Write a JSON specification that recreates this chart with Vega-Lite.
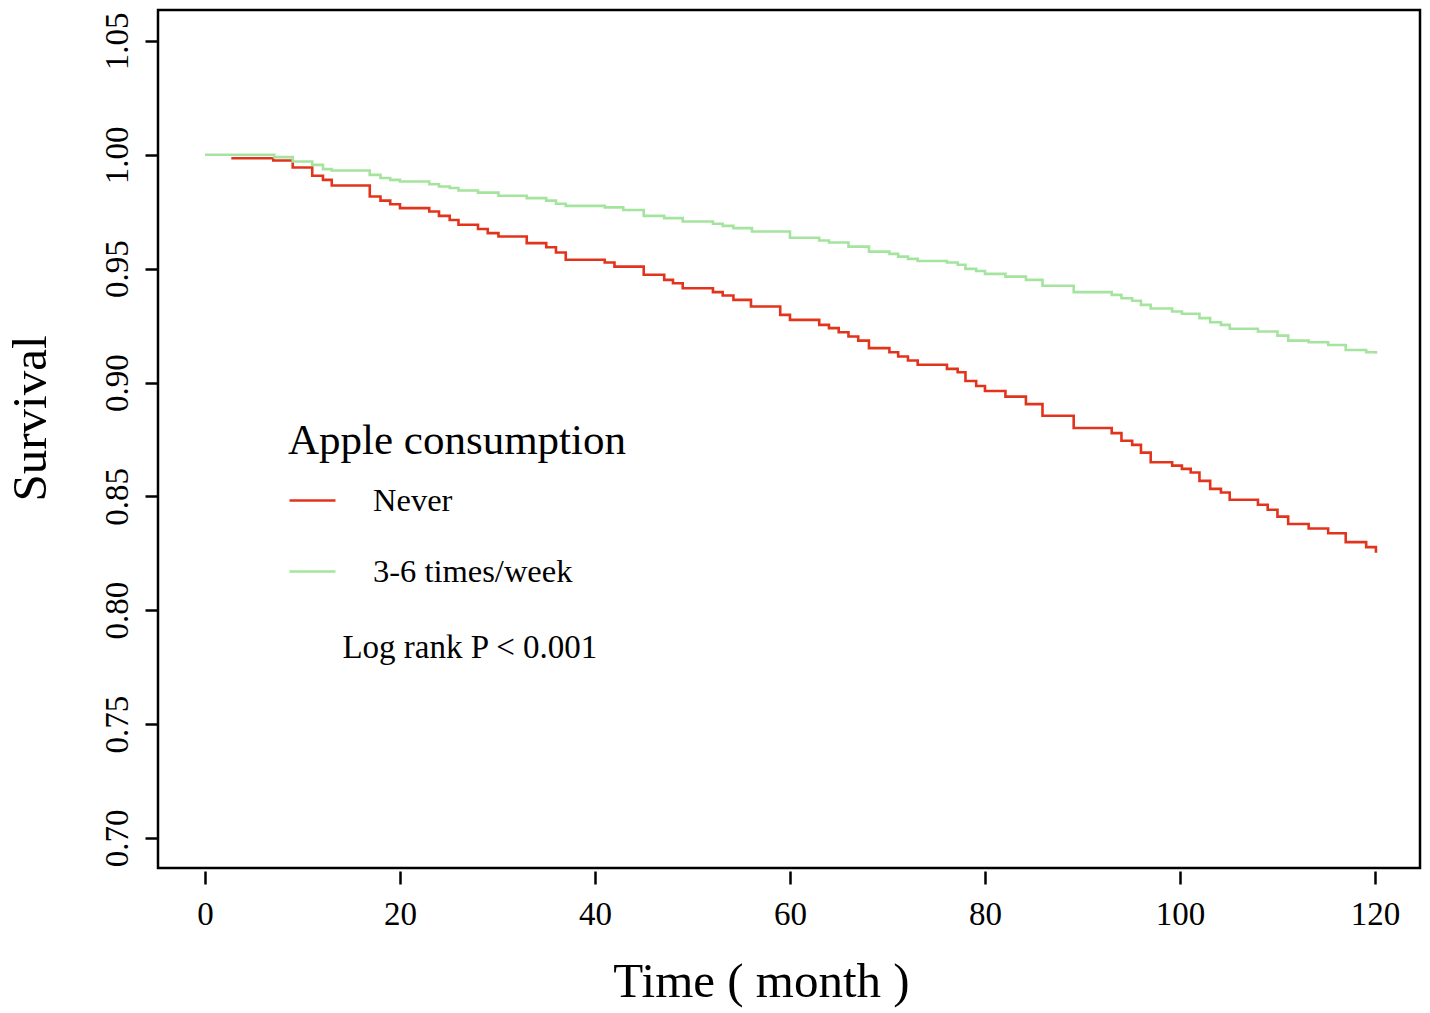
{
  "$schema": "https://vega.github.io/schema/vega-lite/v6.json",
  "autosize": "none",
  "padding": {"left": 158, "top": 10, "right": 10, "bottom": 145},
  "width": 1262,
  "height": 858,
  "background": "white",
  "config": {
    "font": "Liberation Serif",
    "view": {"stroke": "black", "strokeWidth": 2.5},
    "axis": {
      "domain": false,
      "grid": false,
      "tickColor": "black",
      "tickWidth": 2.5,
      "tickSize": 13,
      "labelColor": "black",
      "labelFont": "Liberation Serif",
      "labelFontSize": 33,
      "titleFont": "Liberation Serif",
      "titleFontSize": 49,
      "titleFontWeight": "normal",
      "titleColor": "black"
    }
  },
  "datasets": {
    "curves": [
      {"group": "Never", "time": 2.7, "surv": 0.9985},
      {"group": "Never", "time": 7, "surv": 0.9975},
      {"group": "Never", "time": 9, "surv": 0.9944},
      {"group": "Never", "time": 11, "surv": 0.9908},
      {"group": "Never", "time": 12.1, "surv": 0.989},
      {"group": "Never", "time": 13, "surv": 0.9865},
      {"group": "Never", "time": 16.9, "surv": 0.9817},
      {"group": "Never", "time": 18, "surv": 0.9799},
      {"group": "Never", "time": 19, "surv": 0.9783},
      {"group": "Never", "time": 20, "surv": 0.9766},
      {"group": "Never", "time": 23, "surv": 0.9751},
      {"group": "Never", "time": 24, "surv": 0.9732},
      {"group": "Never", "time": 25.1, "surv": 0.9714},
      {"group": "Never", "time": 26, "surv": 0.9693},
      {"group": "Never", "time": 28, "surv": 0.9674},
      {"group": "Never", "time": 29, "surv": 0.9656},
      {"group": "Never", "time": 30.1, "surv": 0.9641},
      {"group": "Never", "time": 33, "surv": 0.9612},
      {"group": "Never", "time": 35, "surv": 0.9594},
      {"group": "Never", "time": 36, "surv": 0.9571},
      {"group": "Never", "time": 37, "surv": 0.9539},
      {"group": "Never", "time": 41, "surv": 0.9527},
      {"group": "Never", "time": 42, "surv": 0.9509},
      {"group": "Never", "time": 45, "surv": 0.9473},
      {"group": "Never", "time": 47.1, "surv": 0.9451},
      {"group": "Never", "time": 48, "surv": 0.9436},
      {"group": "Never", "time": 49, "surv": 0.9414},
      {"group": "Never", "time": 52.1, "surv": 0.9397},
      {"group": "Never", "time": 53.1, "surv": 0.9382},
      {"group": "Never", "time": 54.2, "surv": 0.9363},
      {"group": "Never", "time": 56, "surv": 0.9334},
      {"group": "Never", "time": 59, "surv": 0.9297},
      {"group": "Never", "time": 60, "surv": 0.9275},
      {"group": "Never", "time": 63, "surv": 0.9253},
      {"group": "Never", "time": 64, "surv": 0.9239},
      {"group": "Never", "time": 65, "surv": 0.9221},
      {"group": "Never", "time": 66, "surv": 0.9202},
      {"group": "Never", "time": 67, "surv": 0.9184},
      {"group": "Never", "time": 68.1, "surv": 0.9151},
      {"group": "Never", "time": 70.2, "surv": 0.9133},
      {"group": "Never", "time": 71.1, "surv": 0.9114},
      {"group": "Never", "time": 72.1, "surv": 0.9097},
      {"group": "Never", "time": 73.1, "surv": 0.9078},
      {"group": "Never", "time": 76.1, "surv": 0.906},
      {"group": "Never", "time": 77.2, "surv": 0.9045},
      {"group": "Never", "time": 78, "surv": 0.9007},
      {"group": "Never", "time": 79.1, "surv": 0.8985},
      {"group": "Never", "time": 80, "surv": 0.8963},
      {"group": "Never", "time": 82.1, "surv": 0.8938},
      {"group": "Never", "time": 84.2, "surv": 0.8905},
      {"group": "Never", "time": 85.9, "surv": 0.8854},
      {"group": "Never", "time": 89.1, "surv": 0.88},
      {"group": "Never", "time": 93, "surv": 0.8778},
      {"group": "Never", "time": 94, "surv": 0.8744},
      {"group": "Never", "time": 95.1, "surv": 0.8726},
      {"group": "Never", "time": 96, "surv": 0.8692},
      {"group": "Never", "time": 97, "surv": 0.865},
      {"group": "Never", "time": 99.2, "surv": 0.8635},
      {"group": "Never", "time": 100.2, "surv": 0.8621},
      {"group": "Never", "time": 101.1, "surv": 0.8605},
      {"group": "Never", "time": 102, "surv": 0.8568},
      {"group": "Never", "time": 103.1, "surv": 0.8533},
      {"group": "Never", "time": 104.2, "surv": 0.8517},
      {"group": "Never", "time": 105.1, "surv": 0.8485},
      {"group": "Never", "time": 108, "surv": 0.8463},
      {"group": "Never", "time": 109, "surv": 0.8441},
      {"group": "Never", "time": 110, "surv": 0.8411},
      {"group": "Never", "time": 111.1, "surv": 0.8379},
      {"group": "Never", "time": 113.2, "surv": 0.8359},
      {"group": "Never", "time": 115.2, "surv": 0.8338},
      {"group": "Never", "time": 117, "surv": 0.8299},
      {"group": "Never", "time": 119.1, "surv": 0.8277},
      {"group": "Never", "time": 120.1, "surv": 0.8253},
      {"group": "3-6 times/week", "time": 0, "surv": 1.0},
      {"group": "3-6 times/week", "time": 7.1, "surv": 0.999},
      {"group": "3-6 times/week", "time": 9, "surv": 0.9971},
      {"group": "3-6 times/week", "time": 11, "surv": 0.9956},
      {"group": "3-6 times/week", "time": 12.1, "surv": 0.9937},
      {"group": "3-6 times/week", "time": 13, "surv": 0.9931},
      {"group": "3-6 times/week", "time": 16.9, "surv": 0.9912},
      {"group": "3-6 times/week", "time": 18, "surv": 0.9898},
      {"group": "3-6 times/week", "time": 19, "surv": 0.989},
      {"group": "3-6 times/week", "time": 20, "surv": 0.9883},
      {"group": "3-6 times/week", "time": 23, "surv": 0.9871},
      {"group": "3-6 times/week", "time": 24, "surv": 0.9861},
      {"group": "3-6 times/week", "time": 25.1, "surv": 0.9854},
      {"group": "3-6 times/week", "time": 26, "surv": 0.9843},
      {"group": "3-6 times/week", "time": 28, "surv": 0.9834},
      {"group": "3-6 times/week", "time": 30.1, "surv": 0.982},
      {"group": "3-6 times/week", "time": 33, "surv": 0.981},
      {"group": "3-6 times/week", "time": 35, "surv": 0.9799},
      {"group": "3-6 times/week", "time": 36, "surv": 0.9785},
      {"group": "3-6 times/week", "time": 37, "surv": 0.9776},
      {"group": "3-6 times/week", "time": 41, "surv": 0.9769},
      {"group": "3-6 times/week", "time": 42.9, "surv": 0.9758},
      {"group": "3-6 times/week", "time": 45, "surv": 0.9732},
      {"group": "3-6 times/week", "time": 47.1, "surv": 0.9722},
      {"group": "3-6 times/week", "time": 49, "surv": 0.9707},
      {"group": "3-6 times/week", "time": 52.1, "surv": 0.9697},
      {"group": "3-6 times/week", "time": 53.1, "surv": 0.9688},
      {"group": "3-6 times/week", "time": 54.2, "surv": 0.9678},
      {"group": "3-6 times/week", "time": 56.1, "surv": 0.9663},
      {"group": "3-6 times/week", "time": 60, "surv": 0.9636},
      {"group": "3-6 times/week", "time": 63, "surv": 0.9624},
      {"group": "3-6 times/week", "time": 64, "surv": 0.9615},
      {"group": "3-6 times/week", "time": 66, "surv": 0.9597},
      {"group": "3-6 times/week", "time": 68.1, "surv": 0.9575},
      {"group": "3-6 times/week", "time": 70.2, "surv": 0.9565},
      {"group": "3-6 times/week", "time": 71.1, "surv": 0.9553},
      {"group": "3-6 times/week", "time": 72.1, "surv": 0.9543},
      {"group": "3-6 times/week", "time": 73.1, "surv": 0.9534},
      {"group": "3-6 times/week", "time": 76.1, "surv": 0.9527},
      {"group": "3-6 times/week", "time": 77.2, "surv": 0.9517},
      {"group": "3-6 times/week", "time": 78, "surv": 0.9499},
      {"group": "3-6 times/week", "time": 79.1, "surv": 0.949},
      {"group": "3-6 times/week", "time": 80, "surv": 0.9477},
      {"group": "3-6 times/week", "time": 82.1, "surv": 0.9465},
      {"group": "3-6 times/week", "time": 84.2, "surv": 0.9451},
      {"group": "3-6 times/week", "time": 85.9, "surv": 0.9425},
      {"group": "3-6 times/week", "time": 89.1, "surv": 0.9397},
      {"group": "3-6 times/week", "time": 93, "surv": 0.9385},
      {"group": "3-6 times/week", "time": 94, "surv": 0.937},
      {"group": "3-6 times/week", "time": 95.1, "surv": 0.9359},
      {"group": "3-6 times/week", "time": 96, "surv": 0.9341},
      {"group": "3-6 times/week", "time": 97, "surv": 0.9325},
      {"group": "3-6 times/week", "time": 99.2, "surv": 0.9312},
      {"group": "3-6 times/week", "time": 100.2, "surv": 0.9302},
      {"group": "3-6 times/week", "time": 102, "surv": 0.9283},
      {"group": "3-6 times/week", "time": 103.1, "surv": 0.9265},
      {"group": "3-6 times/week", "time": 104.2, "surv": 0.9253},
      {"group": "3-6 times/week", "time": 105.1, "surv": 0.9236},
      {"group": "3-6 times/week", "time": 108, "surv": 0.9224},
      {"group": "3-6 times/week", "time": 110, "surv": 0.9206},
      {"group": "3-6 times/week", "time": 111.1, "surv": 0.9184},
      {"group": "3-6 times/week", "time": 113.2, "surv": 0.9177},
      {"group": "3-6 times/week", "time": 115.2, "surv": 0.9165},
      {"group": "3-6 times/week", "time": 117, "surv": 0.9143},
      {"group": "3-6 times/week", "time": 119.1, "surv": 0.9133},
      {"group": "3-6 times/week", "time": 120.1, "surv": 0.9126}
    ],
    "notes": [
      {"time": 14.1, "surv": 0.7835, "label": "Log rank P < 0.001"}
    ]
  },
  "layer": [
    {
      "data": {"name": "curves"},
      "mark": {"type": "line", "interpolate": "step-after", "strokeWidth": 2.6, "clip": true},
      "encoding": {
        "x": {
          "field": "time", "type": "quantitative",
          "title": "Time ( month )",
          "scale": {"domain": [-4.82, 124.62], "nice": false, "zero": false},
          "axis": {"values": [0, 20, 40, 60, 80, 100, 120], "offset": 3, "labelPadding": 14, "titlePadding": 26, "titleX": 603}
        },
        "y": {
          "field": "surv", "type": "quantitative",
          "title": "Survival",
          "scale": {"domain": [0.6868, 1.0636], "nice": false, "zero": false},
          "axis": {
            "values": [0.7, 0.75, 0.8, 0.85, 0.9, 0.95, 1.0, 1.05],
            "format": ".2f",
            "labelAngle": -90,
            "labelAlign": "center",
            "labelBaseline": "bottom",
            "labelPadding": 11,
            "titlePadding": 46,
            "titleY": 408
          }
        },
        "color": {
          "field": "group", "type": "nominal",
          "scale": {"domain": ["Never", "3-6 times/week"], "range": ["#e2341c", "#a5e49e"]},
          "legend": {
            "title": "Apple consumption",
            "orient": "none",
            "legendX": 130,
            "legendY": 410,
            "symbolType": "stroke",
            "symbolSize": 2116,
            "symbolStrokeWidth": 2.5,
            "labelFont": "Liberation Serif",
            "labelFontSize": 32.5,
            "labelColor": "black",
            "labelOffset": 36,
            "labelLimit": 600,
            "rowPadding": 30,
            "titleFont": "Liberation Serif",
            "titleFontSize": 43,
            "titleFontWeight": "normal",
            "titleColor": "black",
            "titleLimit": 800,
            "titlePadding": 13
          }
        }
      }
    },
    {
      "data": {"name": "notes"},
      "mark": {"type": "text", "align": "left", "baseline": "middle", "fontSize": 33, "font": "Liberation Serif", "color": "black"},
      "encoding": {
        "x": {"field": "time", "type": "quantitative"},
        "y": {"field": "surv", "type": "quantitative"},
        "text": {"field": "label"}
      }
    }
  ]
}
